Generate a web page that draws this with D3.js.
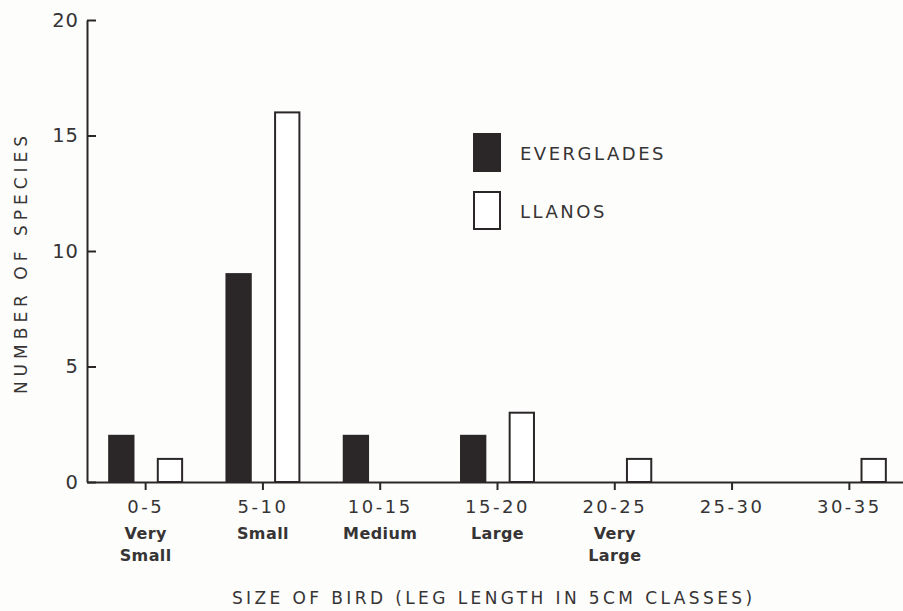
<!DOCTYPE html>
<html><head><meta charset="utf-8">
<script src="https://cdn.jsdelivr.net/npm/d3@7"></script>
<style>
html,body{margin:0;padding:0;background:#fdfdfc;}
svg{display:block;font-family:"DejaVu Sans",sans-serif;}
</style></head>
<body><svg id="chart" width="903" height="611"></svg>
<script>
const categories = ["0-5","5-10","10-15","15-20","20-25","25-30","30-35"];
const sizeNames = [["Very","Small"],["Small"],["Medium"],["Large"],["Very","Large"],[],[]];
const series = ["EVERGLADES","LLANOS"];
const everglades = [2,9,2,2,0,0,0];
const llanos = [1,16,0,3,1,0,1];
const yTicks = [0,5,10,15,20];
const yTitle = "NUMBER OF SPECIES";
const xTitle = "SIZE OF BIRD (LEG LENGTH IN 5CM CLASSES)";

(function(){
const ink = "#2b2728";
const txt = "#363434";
const svg = d3.select("#chart");
const mLeft = 87, mRight = 908, mTop = 20, mBottom = 482;

const pIn = 0.378;
const x0 = d3.scaleBand().domain(categories).range([mLeft, mRight])
  .paddingInner(pIn).paddingOuter(pIn/2);
const x1 = d3.scaleBand().domain(series).range([0, x0.bandwidth()]).paddingInner(0.5);
const y = d3.scaleLinear().domain([0,20]).range([mBottom, mTop]);

const rows = categories.map((c,i)=>({cat:c, values:[{s:series[0],v:everglades[i]},{s:series[1],v:llanos[i]}]}));

// bars
const g = svg.append("g");
g.selectAll("g.grp").data(rows).join("g").attr("class","grp")
  .attr("transform", d=>`translate(${x0(d.cat)},0)`)
  .selectAll("rect").data(d=>d.values.filter(e=>e.v>0)).join("rect")
  .attr("x", d=>x1(d.s)).attr("width", x1.bandwidth())
  .attr("y", d=>y(d.v)).attr("height", d=>y(0)-y(d.v))
  .attr("fill", d=>d.s===series[0]?ink:"#fff")
  .attr("stroke", ink).attr("stroke-width", 2);

// y axis
const yAxis = svg.append("g").attr("transform",`translate(${mLeft},0)`)
  .call(d3.axisLeft(y).tickValues(yTicks).tickSize(-9).tickSizeOuter(0).tickPadding(8));
yAxis.select(".domain").attr("stroke",ink).attr("stroke-width",2);
yAxis.selectAll(".tick line").attr("stroke",ink).attr("stroke-width",2);
yAxis.selectAll(".tick text").attr("fill",txt).attr("font-size",19.5)
  .attr("font-family","DejaVu Sans, sans-serif").attr("letter-spacing",1);

// x axis
const xAxis = svg.append("g").attr("transform",`translate(0,${mBottom})`)
  .call(d3.axisBottom(x0).tickSize(8).tickSizeOuter(0).tickPadding(10));
xAxis.select(".domain").attr("stroke",ink).attr("stroke-width",2);
xAxis.selectAll(".tick line").attr("stroke",ink).attr("stroke-width",2);
xAxis.selectAll(".tick text").attr("fill",txt).attr("font-size",18)
  .attr("font-family","DejaVu Sans, sans-serif").attr("letter-spacing",2.5);
xAxis.selectAll(".tick").each(function(d,i){
  const t = d3.select(this);
  sizeNames[i].forEach((line,k)=>{
    t.append("text").attr("y", 57 + k*22).attr("text-anchor","middle")
      .attr("fill",txt).attr("font-size",16).attr("font-weight","bold")
      .attr("letter-spacing",0.4)
      .attr("font-family","DejaVu Sans, sans-serif").text(line);
  });
});

// titles
svg.append("text").attr("transform",`translate(27,${260+2.5}) rotate(-90)`)
  .attr("text-anchor","middle").attr("fill",txt).attr("font-size",17)
  .attr("letter-spacing",5).text(yTitle);
svg.append("text").attr("x",492+1.7).attr("y",604).attr("text-anchor","middle")
  .attr("fill",txt).attr("font-size",17).attr("letter-spacing",3.4).text(xTitle);

// legend
const leg = svg.append("g").attr("transform","translate(474,134)");
series.forEach((s,i)=>{
  leg.append("rect").attr("x",0).attr("y",i*58).attr("width",26).attr("height",37)
    .attr("fill", i===0?ink:"#fff").attr("stroke",ink).attr("stroke-width",2);
  leg.append("text").attr("x",46).attr("y",i*58+26).attr("fill",txt)
    .attr("font-size",18).attr("letter-spacing",2.5).text(s);
});
})();
</script></body></html>
